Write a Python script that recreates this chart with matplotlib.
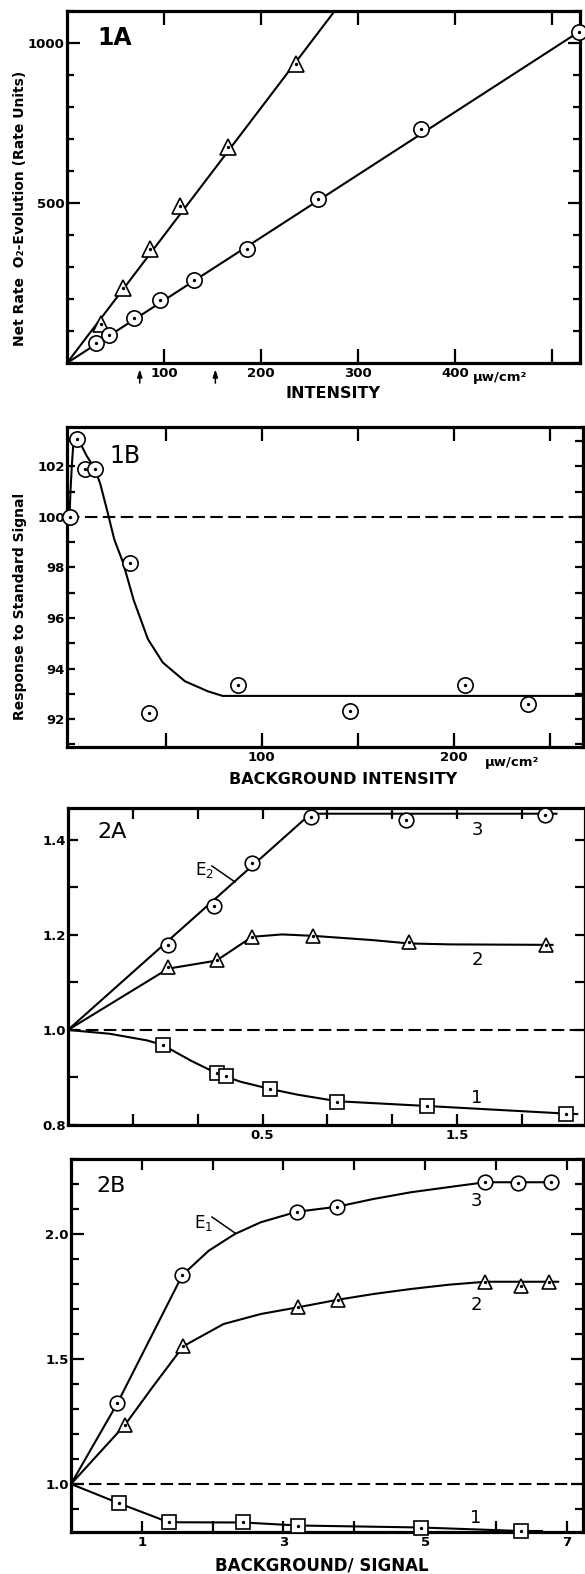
import matplotlib
matplotlib.use('Agg')
import matplotlib.pyplot as plt
from matplotlib.ticker import FixedLocator, FixedFormatter, MultipleLocator, NullFormatter
from matplotlib.lines import Line2D

plt.rcParams['font.family'] = ['DejaVu Sans']

# ---------------- data ----------------
# Panel 1A
a1_tri_x = [35.5, 57.8, 85.5, 116.8, 166.5, 236.6]
a1_tri_y = [123, 234, 357, 490, 675, 935]
a1_tri_line_x = [0, 276]
a1_tri_line_y = [0, 1100]
a1_circ_x = [29.7, 43.2, 69.4, 96.3, 131, 186, 259, 365, 528]
a1_circ_y = [62, 88, 142, 198, 258, 355, 511, 730, 1035]
a1_circ_line_x = [0, 528]
a1_circ_line_y = [0, 1035]
a1_arrow_x = [75, 153]
a1_xticks = [100, 200, 300, 400, 500]
a1_xticklabels = ['100', '200', '300', '400', '']
a1_yticks = [500, 1000]

# Panel 1B
b1_x = [0, 3.9, 8.2, 13.2, 31.5, 41.4, 87.4, 145.6, 205.8, 238.4]
b1_y = [100.0, 103.08, 101.9, 101.9, 98.16, 92.24, 93.34, 92.32, 93.36, 92.6]
b1_curve_x = [0, 0.5, 1.2, 1.9, 3.9, 6, 9, 13.2, 16, 19.4, 23.3, 27.8, 33.4, 40.8,
              48.5, 60, 66, 72, 79.6, 267]
b1_curve_y = [100.0, 101.0, 102.0, 102.8, 103.08, 102.85, 102.4, 101.9, 101.3, 100.3,
              99.1, 98.2, 96.7, 95.16, 94.24, 93.5, 93.3, 93.1, 92.92, 92.92]
b1_xticks = [50, 100, 150, 200, 250]
b1_xticklabels = ['', '100', '', '200', '']
b1_yticks = [92, 94, 96, 98, 100, 102]

# Panel 2A (x in tick units; 0.5 at tick 3, 1.5 at tick 6)
a2_c_x = [1.545, 2.258, 2.838, 3.742, 5.214, 7.348]
a2_c_y = [1.179, 1.260, 1.352, 1.449, 1.442, 1.453]
a2_c_line_x = [0, 3.742, 7.53]
a2_c_line_y = [1.0, 1.455, 1.455]
a2_t_x = [1.545, 2.29, 2.838, 3.777, 5.256, 7.37]
a2_t_y = [1.133, 1.147, 1.196, 1.198, 1.186, 1.179]
a2_t_line_x = [0, 1.545, 2.29, 2.838, 3.3, 3.777, 4.7, 5.256, 5.9, 7.47]
a2_t_line_y = [1.0, 1.129, 1.146, 1.196, 1.201, 1.198, 1.189, 1.182, 1.180, 1.179]
a2_s_x = [1.464, 2.304, 2.432, 3.11, 4.154, 5.533, 7.678]
a2_s_y = [0.968, 0.910, 0.903, 0.876, 0.848, 0.840, 0.823]
a2_s_line_x = [0, 0.64, 1.22, 1.464, 1.9, 2.304, 2.66, 3.11, 3.53, 4.154, 5.533, 7.678, 7.85]
a2_s_line_y = [1.0, 0.992, 0.978, 0.968, 0.935, 0.908, 0.891, 0.876, 0.864, 0.850, 0.840, 0.824, 0.823]
a2_xticks = [1, 2, 3, 4, 5, 6, 7]
a2_xticklabels = ['', '', '0.5', '', '', '1.5', '']
a2_yticks = [0.8, 1.0, 1.2, 1.4]
a2_yticklabels = ['0.8', '1.0', '1.2', '1.4']

# Panel 2B
b2_c_x = [0.655, 1.574, 3.19, 3.756, 5.85, 6.31, 6.78]
b2_c_y = [1.323, 1.836, 2.089, 2.109, 2.208, 2.203, 2.21]
b2_c_line_x = [0, 0.655, 1.115, 1.574, 1.944, 2.314, 2.68, 3.19, 3.756, 4.27, 4.8, 5.32, 5.85, 6.88]
b2_c_line_y = [1.0, 1.323, 1.58, 1.836, 1.933, 2.0, 2.047, 2.089, 2.109, 2.14, 2.167, 2.187, 2.207, 2.207]
b2_t_x = [0.761, 1.585, 3.21, 3.767, 5.853, 6.355, 6.75]
b2_t_y = [1.236, 1.551, 1.707, 1.737, 1.809, 1.792, 1.807]
b2_t_line_x = [0, 0.761, 1.15, 1.585, 2.155, 2.68, 3.21, 3.767, 4.27, 4.8, 5.33, 5.853, 6.88]
b2_t_line_y = [1.0, 1.236, 1.387, 1.551, 1.64, 1.68, 1.707, 1.737, 1.76, 1.78, 1.797, 1.809, 1.809]
b2_s_x = [0.676, 1.379, 2.435, 3.21, 4.944, 6.355]
b2_s_y = [0.923, 0.847, 0.847, 0.833, 0.824, 0.811]
b2_s_line_x = [0, 0.676, 1.379, 2.435, 3.21, 4.944, 6.355, 6.65]
b2_s_line_y = [1.0, 0.923, 0.847, 0.846, 0.834, 0.826, 0.812, 0.812]
b2_xticks = [1, 2, 3, 4, 5, 6, 7]
b2_xticklabels = ['1', '', '3', '', '5', '', '7']
b2_yticks = [1.0, 1.5, 2.0]
b2_yticklabels = ['1.0', '1.5', '2.0']

# ---------------- figure ----------------
W, H = 585, 1574
fig = plt.figure(figsize=(W / 100, H / 100), dpi=100)


def axes_px(left, top, right, bottom):
    return fig.add_axes([left / W, 1 - bottom / H, (right - left) / W, (bottom - top) / H])


def fx(px):
    return px / W


def fy(py):
    return 1 - py / H


LW = 1.5
MEW = 1.2
TICKFONT = dict(fontsize=9.5, fontweight='bold')


def style(ax, xlen, ylen, yminor_len):
    for s in ax.spines.values():
        s.set_linewidth(2.3)
    ax.tick_params(axis='both', which='both', direction='in', top=True, right=True,
                   width=1.6, colors='black')
    ax.tick_params(axis='x', which='major', length=xlen, pad=3)
    ax.tick_params(axis='y', which='major', length=ylen, pad=1.5)
    ax.tick_params(axis='y', which='minor', length=yminor_len)
    for lab in ax.get_xticklabels() + ax.get_yticklabels():
        lab.set_fontsize(TICKFONT['fontsize'])
        lab.set_fontweight('bold')


def markers(ax, x, y, marker, ms):
    ax.plot(x, y, linestyle='none', marker=marker, ms=ms, mfc='white', mec='black',
            mew=MEW, zorder=4, clip_on=False)
    ax.plot(x, y, linestyle='none', marker='o', ms=1.4, color='black', zorder=5, clip_on=False)


DASH = (0, (6, 2.6))

# ---- 1A ----
ax = axes_px(67, 11, 580, 363)
ax.set_xlim(0, 529)
ax.set_ylim(0, 1100)
ax.plot(a1_tri_line_x, a1_tri_line_y, color='black', lw=LW, zorder=3)
ax.plot(a1_circ_line_x, a1_circ_line_y, color='black', lw=LW, zorder=3, clip_on=False)
markers(ax, a1_tri_x, a1_tri_y, '^', 11)
markers(ax, a1_circ_x, a1_circ_y, 'o', 11)
ax.xaxis.set_major_locator(FixedLocator(a1_xticks))
ax.xaxis.set_major_formatter(FixedFormatter(a1_xticklabels))
ax.yaxis.set_major_locator(FixedLocator(a1_yticks))
ax.yaxis.set_minor_locator(MultipleLocator(100))
style(ax, 10, 9, 5)
for xa in a1_arrow_x:
    ax.annotate('', xy=(xa, -0.01), xytext=(xa, -0.065),
                xycoords=('data', 'axes fraction'), textcoords=('data', 'axes fraction'),
                arrowprops=dict(arrowstyle='-|>,head_length=0.45,head_width=0.15',
                                color='black', lw=1.1), annotation_clip=False)
fig.text(fx(115), fy(38), '1A', fontsize=17, fontweight='bold', ha='center', va='center')
fig.text(fx(500), fy(377), 'μw/cm²', fontsize=9.5, fontweight='bold', ha='center', va='center')
fig.text(fx(333), fy(394), 'INTENSITY', fontsize=11.5, fontweight='bold', ha='center', va='center')
fig.text(fx(20), fy(208), 'Net Rate  O₂-Evolution (Rate Units)', fontsize=10, fontweight='bold',
         rotation=90, ha='center', va='center')

# ---- 1B ----
ax = axes_px(67, 427, 583, 747)
ax.set_xlim(-1.3, 267)
ax.set_ylim(90.9, 103.55)
ax.axhline(100, color='black', lw=LW, ls=DASH, zorder=2)
ax.plot(b1_curve_x, b1_curve_y, color='black', lw=LW, zorder=3)
markers(ax, b1_x, b1_y, 'o', 11)
ax.xaxis.set_major_locator(FixedLocator(b1_xticks))
ax.xaxis.set_major_formatter(FixedFormatter(b1_xticklabels))
ax.yaxis.set_major_locator(FixedLocator(b1_yticks))
ax.yaxis.set_minor_locator(MultipleLocator(1))
style(ax, 10, 6, 6)
fig.text(fx(125), fy(456), '1B', fontsize=17, ha='center', va='center')
fig.text(fx(512), fy(762), 'μw/cm²', fontsize=9.5, fontweight='bold', ha='center', va='center')
fig.text(fx(343), fy(779), 'BACKGROUND INTENSITY', fontsize=11.5, fontweight='bold',
         ha='center', va='center')
fig.text(fx(20), fy(606), 'Response to Standard Signal', fontsize=10, fontweight='bold',
         rotation=90, ha='center', va='center')

# ---- 2A ----
ax = axes_px(68, 808, 585, 1125)
ax.set_xlim(0, 7.97)
ax.set_ylim(0.8, 1.467)
ax.axhline(1.0, color='black', lw=LW, ls=DASH, zorder=2)
ax.plot(a2_c_line_x, a2_c_line_y, color='black', lw=LW, zorder=3)
ax.plot(a2_t_line_x, a2_t_line_y, color='black', lw=LW, zorder=3)
ax.plot(a2_s_line_x, a2_s_line_y, color='black', lw=LW, zorder=3, clip_on=False)
markers(ax, a2_c_x, a2_c_y, 'o', 10.5)
markers(ax, a2_t_x, a2_t_y, '^', 10.5)
markers(ax, a2_s_x, a2_s_y, 's', 9.5)
ax.xaxis.set_major_locator(FixedLocator(a2_xticks))
ax.xaxis.set_major_formatter(FixedFormatter(a2_xticklabels))
ax.yaxis.set_major_locator(FixedLocator(a2_yticks))
ax.yaxis.set_major_formatter(FixedFormatter(a2_yticklabels))
ax.yaxis.set_minor_locator(MultipleLocator(0.1))
style(ax, 8, 7, 7)
fig.text(fx(112), fy(832), '2A', fontsize=16, ha='center', va='center')
fig.text(fx(477), fy(830), '3', fontsize=13, ha='center', va='center')
fig.text(fx(477), fy(960), '2', fontsize=13, ha='center', va='center')
fig.text(fx(477), fy(1098), '1', fontsize=13, ha='center', va='center')
fig.text(fx(204), fy(870), 'E$_2$', fontsize=12, ha='center', va='center')
fig.add_artist(Line2D([fx(212), fx(235)], [fy(866), fy(882)], color='black', lw=1.1))

# ---- 2B ----
ax = axes_px(71, 1159, 583, 1532)
ax.set_xlim(0, 7.23)
ax.set_ylim(0.808, 2.3)
ax.axhline(1.0, color='black', lw=LW, ls=DASH, zorder=2)
ax.plot(b2_c_line_x, b2_c_line_y, color='black', lw=LW, zorder=3)
ax.plot(b2_t_line_x, b2_t_line_y, color='black', lw=LW, zorder=3)
ax.plot(b2_s_line_x, b2_s_line_y, color='black', lw=LW, zorder=3, clip_on=False)
markers(ax, b2_c_x, b2_c_y, 'o', 10.5)
markers(ax, b2_t_x, b2_t_y, '^', 10.5)
markers(ax, b2_s_x, b2_s_y, 's', 9.5)
ax.xaxis.set_major_locator(FixedLocator(b2_xticks))
ax.xaxis.set_major_formatter(FixedFormatter(b2_xticklabels))
ax.yaxis.set_major_locator(FixedLocator(b2_yticks))
ax.yaxis.set_major_formatter(FixedFormatter(b2_yticklabels))
ax.yaxis.set_minor_locator(MultipleLocator(0.1))
style(ax, 8, 9, 6)
fig.text(fx(111), fy(1186), '2B', fontsize=16, ha='center', va='center')
fig.text(fx(476), fy(1201), '3', fontsize=13, ha='center', va='center')
fig.text(fx(476), fy(1305), '2', fontsize=13, ha='center', va='center')
fig.text(fx(476), fy(1518), '1', fontsize=13, ha='center', va='center')
fig.text(fx(204), fy(1223), 'E$_1$', fontsize=12, ha='center', va='center')
fig.add_artist(Line2D([fx(212), fx(235)], [fy(1217), fy(1233)], color='black', lw=1.1))
fig.text(fx(322), fy(1565), 'BACKGROUND/ SIGNAL', fontsize=12, fontweight='bold',
         ha='center', va='center')

fig.savefig('out.png', dpi=100)
